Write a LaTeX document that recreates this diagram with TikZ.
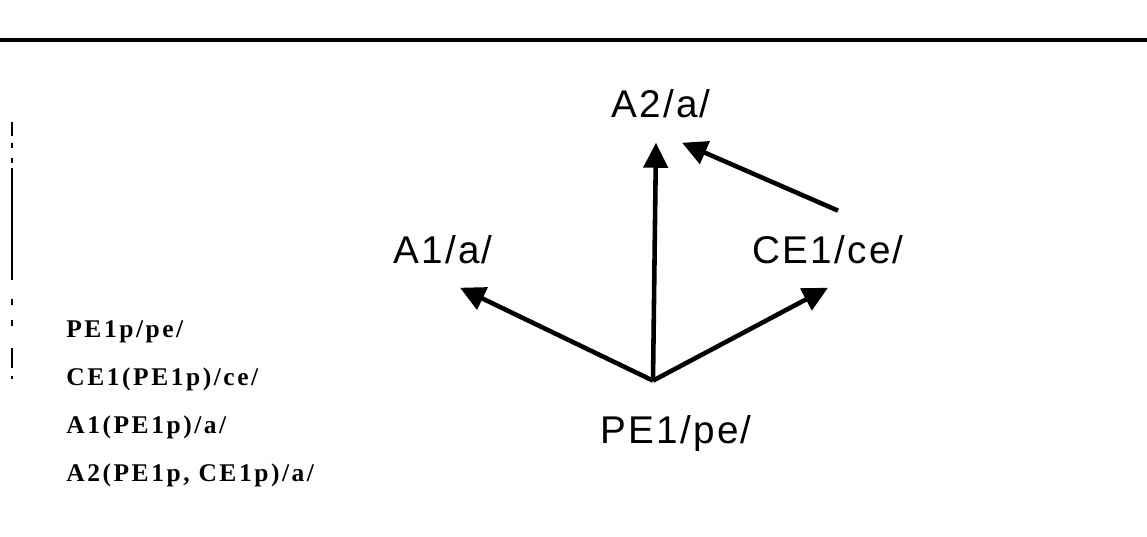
\documentclass[tikz,border=0pt]{standalone}
\usepackage{fontspec}
\usepackage{tikz}
\usetikzlibrary{arrows.meta, positioning}
\newfontfamily\termfont[LetterSpace=6]{Liberation Sans}
\newfontfamily\rulefont[LetterSpace=10]{Liberation Serif}
\tikzset{
  term/.style={font=\termfont\fontsize{22}{26}\selectfont, inner xsep=2pt,
               inner ysep=0.48cm, anchor=base},
  rulelist/.style={font=\rulefont\bfseries\fontsize{14.5}{17}\selectfont,
                   inner sep=0pt, anchor=base west},
  arrow/.style={-{Triangle[length=0.5cm, width=0.48cm]}, line width=2.6pt},
  frame/.style={line width=2.2pt},
}

\begin{document}
\begin{tikzpicture}[x=0.02cm, y=-0.02cm]
  \useasboundingbox (0,0) rectangle (1147,537);

  % --- Frame ---
  \draw[frame] (0,40) -- (1147,40);
  \foreach \ya/\yb in {122/136, 143/148, 158/163, 168/280, 299/305,
                       320/326, 348/368, 376/379}
    \draw[line width=0.7pt] (12,\ya) -- (12,\yb);

  % --- Terms ---
  \node[term] (a2) at (661,118) {A2/a/};
  \node[term] (a1) at (443,263) {A1/a/};
  \node[term] (ce1) at (828,263) {CE1/ce/};
  \node[term, inner ysep=0.68cm] (pe1) at (676,443) {PE1/pe/};

  % --- Rules ---
  \node[rulelist] (r1) at (66,337) {PE1p/pe/};
  \node[rulelist] (r2) at (66,385) {CE1(PE1p)/ce/};
  \node[rulelist] (r3) at (66,433) {A1(PE1p)/a/};
  \node[rulelist] (r4) at (66,481) {A2(PE1p, CE1p)/a/};

  % --- Dependencies ---
  \coordinate (apex) at ([xshift=-0.46cm]pe1.north);
  \draw[arrow] (apex) -- ([xshift=0.34cm]a1.south);
  \draw[arrow] (apex) -- ([xshift=-0.1cm]a2.south);
  \draw[arrow] (apex) -- (ce1.south);
  \draw[arrow] ([xshift=0.2cm]ce1.north) -- ([xshift=0.42cm]a2.south);

\end{tikzpicture}
\end{document}
